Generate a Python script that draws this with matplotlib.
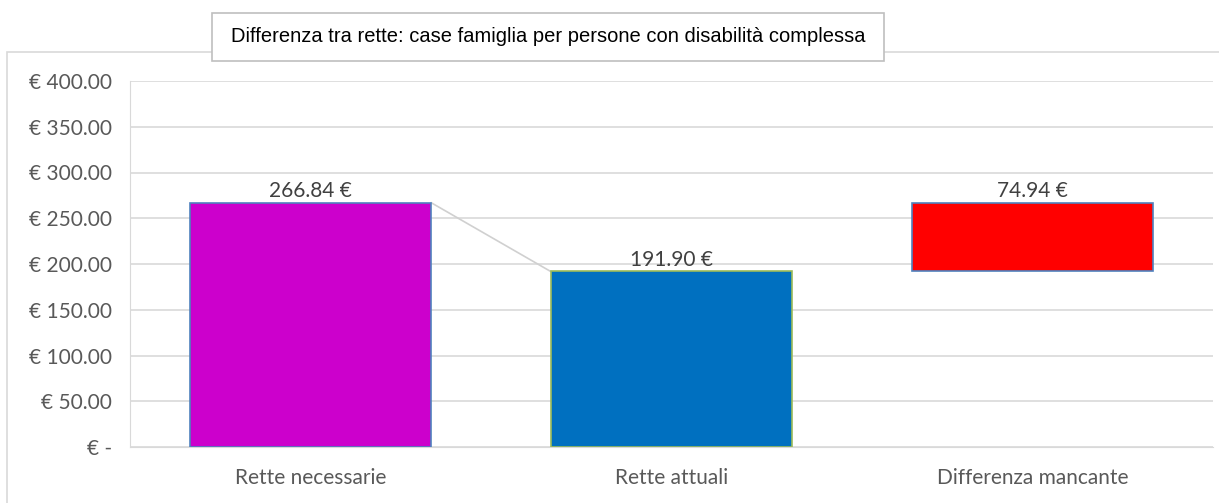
import matplotlib
matplotlib.use("Agg")
from matplotlib import pyplot as plt
from matplotlib.patches import Rectangle

categories = ["Rette necessarie", "Rette attuali", "Differenza mancante"]
values = [266.84, 191.90, 74.94]
bottoms = [0, 0, 191.90]
labels = ["266.84 €", "191.90 €", "74.94 €"]
colors = ["#CC00CC", "#0070C0", "#FF0000"]
edges = ["#4F81BD", "#9BBB59", "#4F81BD"]
yticks = [0, 50, 100, 150, 200, 250, 300, 350, 400]
ytick_labels = ["€ -", "€ 50.00", "€ 100.00", "€ 150.00", "€ 200.00",
                "€ 250.00", "€ 300.00", "€ 350.00", "€ 400.00"]
title = "Differenza tra rette: case famiglia per persone con disabilità complessa"

W, H = 1219, 503
fig = plt.figure(figsize=(W / 100, H / 100), dpi=100)

# outer chart border
fig.patches.append(Rectangle((7 / W, -0.1), 1.2, (H - 52) / H + 0.1,
                             transform=fig.transFigure, fill=False,
                             edgecolor="#D9D9D9", linewidth=1.2))

ax = fig.add_axes([130 / W, 1 - 447 / H, (1213 - 130) / W, (447 - 81) / H])
x = range(len(categories))
ax.bar(x, values, bottom=bottoms, width=0.67, color=colors,
       edgecolor=edges, linewidth=1.2, zorder=3)

# connector between first two bars
ax.plot([0 + 0.335, 1 - 0.335], [values[0], values[1]],
        color="#D0D0D0", linewidth=1.2, zorder=2)

for i in x:
    ax.annotate(labels[i], (i, bottoms[i] + values[i]), xytext=(0, 1),
                textcoords="offset points", ha="center", va="bottom",
                fontsize=15, color="#404040", family="Lato")

ax.set_xlim(-0.5, 2.5)
ax.set_ylim(0, 400)
ax.set_yticks(yticks)
ax.set_yticklabels(ytick_labels, fontsize=15, color="#595959", family="Lato")
ax.set_xticks(list(x))
ax.set_xticklabels(categories, fontsize=15, color="#595959", family="Lato")
ax.tick_params(length=0)
ax.tick_params(axis="y", pad=13)
ax.tick_params(axis="x", pad=15)
ax.grid(axis="y", color="#D9D9D9", linewidth=1.2, zorder=0)
for s in ["top", "right"]:
    ax.spines[s].set_visible(False)
ax.spines["left"].set_color("#D9D9D9")
ax.spines["bottom"].set_color("#D9D9D9")
ax.spines["left"].set_zorder(1)

# title box
fig.patches.append(Rectangle((212 / W, 1 - 61 / H), (884 - 212) / W, 48 / H,
                             transform=fig.transFigure, facecolor="white",
                             edgecolor="#BFBFBF", linewidth=1.2, zorder=5))
fig.text(548 / W, 1 - 37 / H, title, ha="center", va="center",
         fontsize=14.5, family="Liberation Sans", color="black", zorder=6)

fig.savefig("out.png", dpi=100)
